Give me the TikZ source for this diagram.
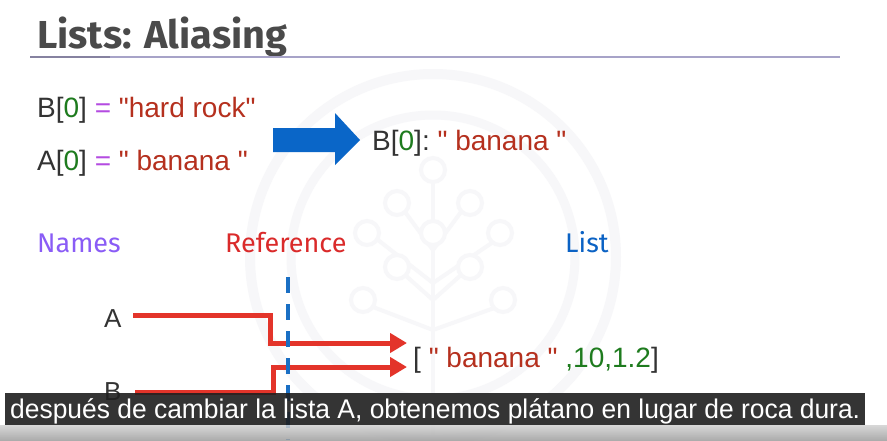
\documentclass[tikz,border=0pt]{standalone}
\usepackage{graphicx}
\usepackage{fontspec}
\setmainfont{Liberation Sans}[Ligatures=TeXOff]
\newfontfamily\plexfont{Fira Sans}
\usetikzlibrary{arrows.meta}

\definecolor{titlegray}{HTML}{4A4A4A}
\definecolor{rulecol}{HTML}{A7A3C8}
\definecolor{darktext}{HTML}{333333}
\definecolor{idxgreen}{HTML}{1E7B1E}
\definecolor{eqpurple}{HTML}{B44BE1}
\definecolor{strred}{HTML}{B5301E}
\definecolor{namepurple}{HTML}{8A5CF6}
\definecolor{refred}{HTML}{DA2A2A}
\definecolor{listblue}{HTML}{0B62C4}
\definecolor{arrowred}{HTML}{E3342A}
\definecolor{bigblue}{HTML}{0A66C8}
\definecolor{dashblue}{HTML}{1A6FC4}
\definecolor{markcol}{HTML}{F7F7F9}

% straight double quote
\newcommand{\qq}{\symbol{34}}
\newcommand{\dk}[1]{\textcolor{darktext}{#1}}
\newcommand{\ig}[1]{\textcolor{idxgreen}{#1}}
\newcommand{\eqs}[1]{\textcolor{eqpurple}{#1}}
\newcommand{\sr}[1]{\textcolor{strred}{#1}}

\tikzset{
  code/.style={anchor=base west, inner sep=0pt, font=\fontsize{28}{32}\selectfont},
  heading/.style={anchor=base west, inner sep=0pt, font=\plexfont\fontsize{27}{31}\selectfont},
  varname/.style={anchor=base west, inner sep=0pt, text=darktext, font=\fontsize{26}{30}\selectfont},
  refarrow/.style={draw=arrowred, line width=5pt, miter limit=10, -{Triangle[length=17pt,width=19pt]}},
  dashline/.style={draw=dashblue, line width=3.5pt, dash pattern=on 16pt off 11pt},
  logoline/.style={draw=markcol, line width=4pt},
}

\begin{document}
\begin{tikzpicture}[x=1pt,y=-1pt]
\useasboundingbox (0,0) rectangle (887,440);
\fill[white] (0,0) rectangle (887,440);

% faint logo in the background
\draw[markcol, line width=10pt] (433,257) circle[radius=183];
\draw[markcol, line width=9pt] (433,257) circle[radius=142];
\draw[logoline] (433,183) -- (433,440);
\draw[logoline] (433,250) -- (405,212) (433,250) -- (461,212);
\draw[logoline] (433,283) -- (378,240) (433,283) -- (496,240);
\draw[logoline] (433,300) -- (405,275) (433,300) -- (461,275);
\draw[logoline] (433,330) -- (373,307) (433,330) -- (497,307);
\foreach \p in {(433,170),(397,203),(470,203),(433,233),(367,233),(500,233),(397,267),(470,267),(363,300),(503,300)}
  \draw[logoline, fill=white] \p circle[radius=12];

% title and rule
\node[anchor=base west, inner sep=0pt, text=titlegray] (title) at (37,48)
  {\resizebox{250pt}{\height}{\plexfont\bfseries\fontsize{39}{44}\selectfont Lists: Aliasing}};
\draw[rulecol, line width=1.2pt] (30,57) -- (840,57);
\draw[rulecol!80!black, line width=1.4pt] (30,57) -- (110,57);

% assignments
\node[code] (bset) at (37,117) {\dk{B[}\ig{0}\dk{]} \eqs{=} \sr{\qq hard rock\qq}};
\node[code] (aset) at (37,170) {\dk{A[}\ig{0}\dk{]} \eqs{=} \sr{\qq\ banana \qq}};

% big arrow and result
\fill[bigblue] (273,128) -- (335,128) -- (335,113) -- (360,140) -- (335,165) -- (335,152) -- (273,152) -- cycle;
\node[code] (bres) at (372,150) {\dk{B[}\ig{0}\dk{]:\ }\sr{\qq\ banana \qq}};

% column headings
\node[heading, text=namepurple] (names) at (37,252) {Names};
\node[heading, text=refred] (reference) at (225,252) {Reference};
\node[heading, text=listblue] (list) at (565,252) {List};

% names and list value
\node[varname] (A) at (104,327) {A};
\node[varname] (B) at (104,400) {B};
\node[code] (listval) at (413,367) {\dk{[\ }\sr{\qq\ banana \qq}\ \textcolor{idxgreen}{,10,1.2}\dk{]}};

% references
\coordinate (a0) at (133,315);
\coordinate (b0) at (135,392);
\coordinate (ta) at (407,343);
\coordinate (tb) at (407,367);
\draw[refarrow] (a0) -| (270,343) -- (ta);
\draw[refarrow] (b0) -| (273,367) -- (tb);

% boundary between names and list
\coordinate (dtop) at (288,277);
\coordinate (dbot) at (288,440);
\draw[dashline] (dtop) -- (dbot);

% lower band and caption
\shade[top color=black!18, bottom color=black!38, opacity=0.85] (0,425) rectangle (887,440);
\fill[black!88, opacity=0.9] (5,393) rectangle (865,425);
\node[anchor=base west, inner sep=0pt, text=white] (caption) at (10,418)
  {\resizebox{850pt}{\height}{\fontsize{27}{30}\selectfont después de cambiar la lista A, obtenemos plátano en lugar de roca dura.}};
\end{tikzpicture}
\end{document}
